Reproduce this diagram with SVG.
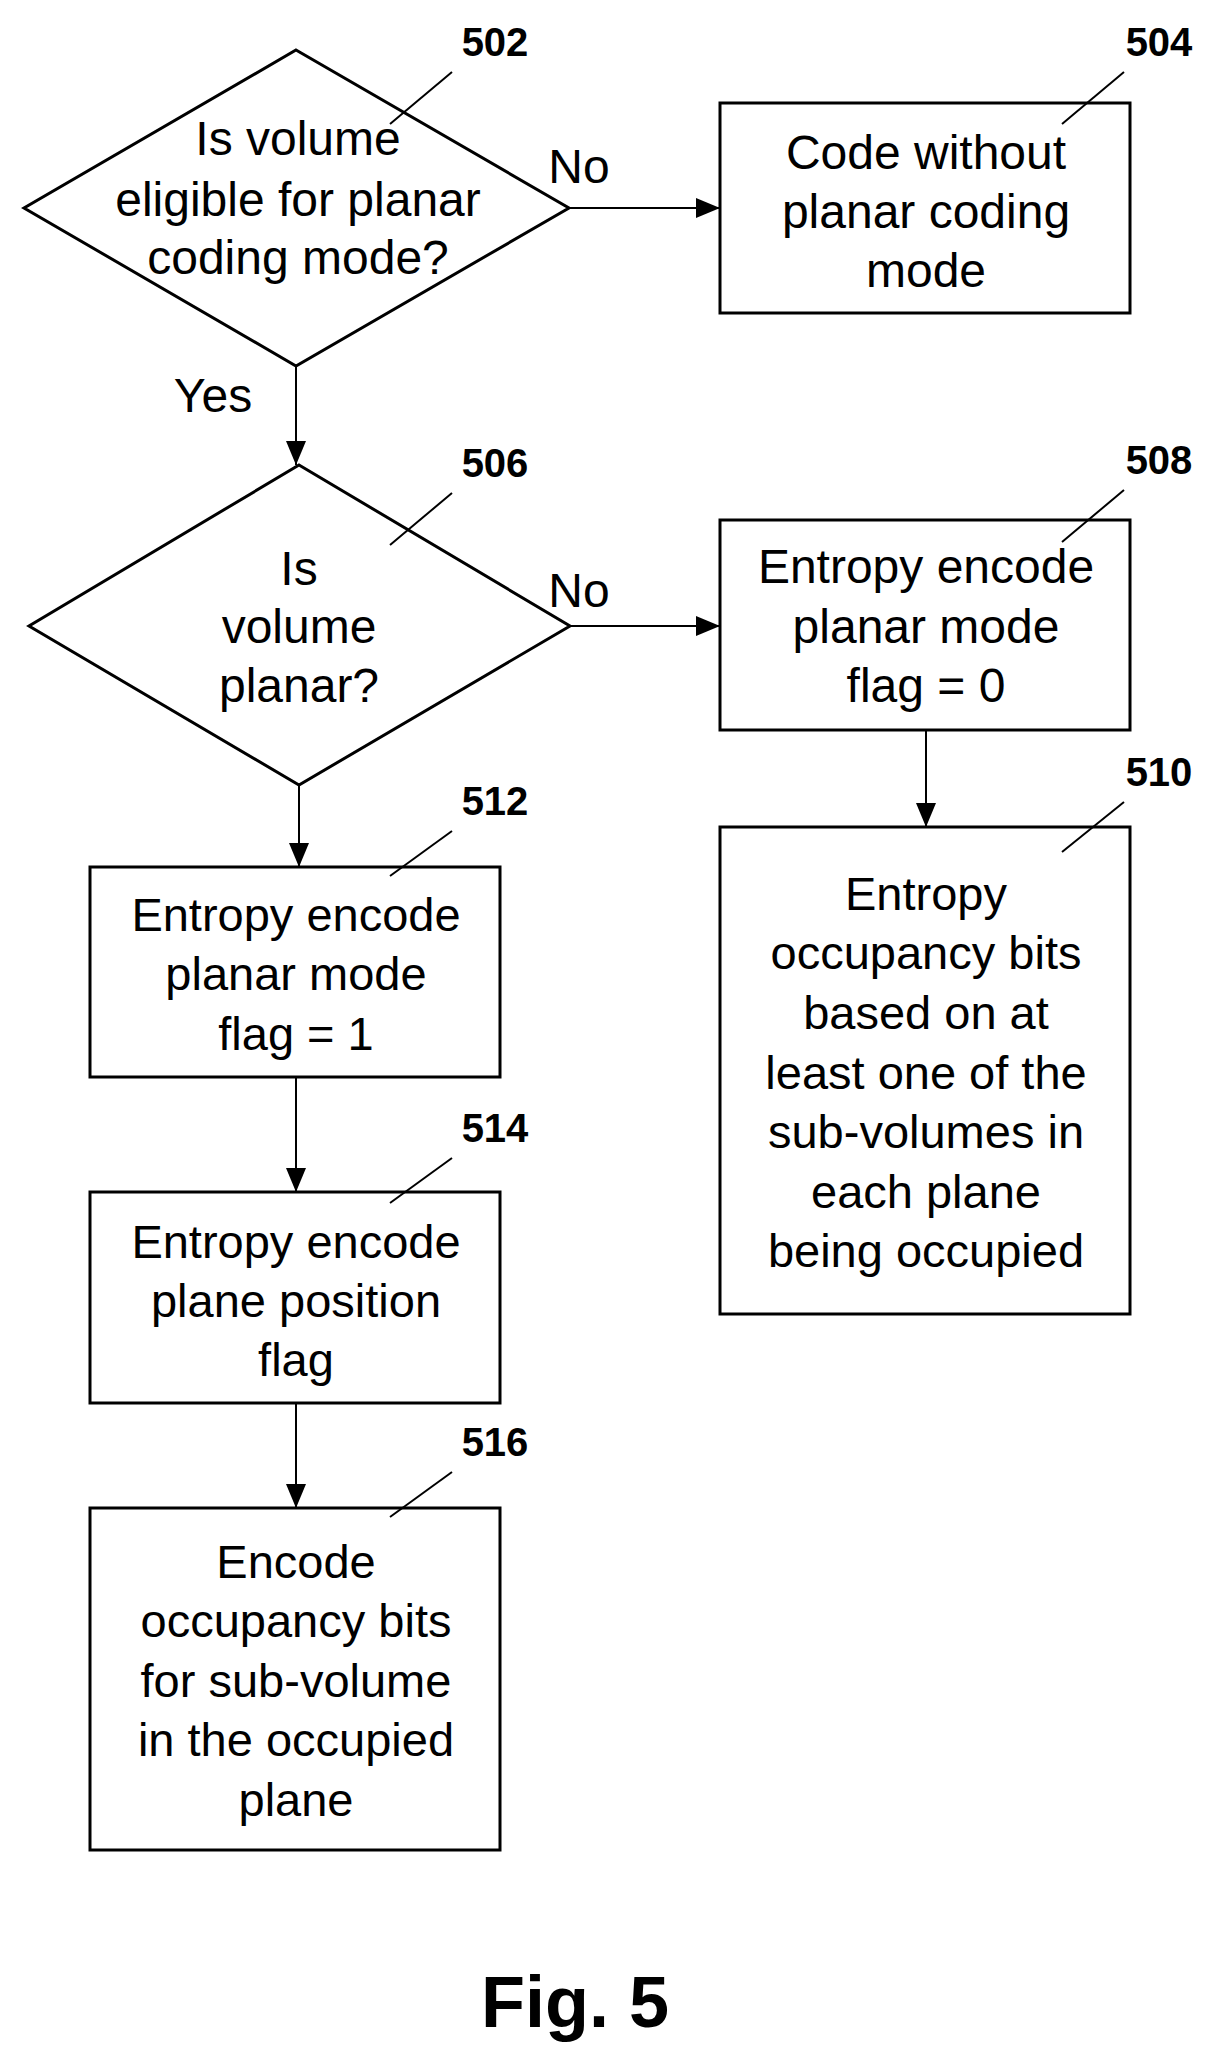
<svg xmlns="http://www.w3.org/2000/svg" width="1225" height="2071" viewBox="0 0 1225 2071">
<style>
.s{fill:none;stroke:#000;stroke-width:3}
.t{font-family:"Liberation Sans",Arial,sans-serif;font-size:47px;text-anchor:middle;fill:#000}
.n{font-family:"Liberation Sans Narrow","Liberation Sans",Arial,sans-serif;font-size:48px;text-anchor:middle;fill:#000}
.r{font-family:"Liberation Sans",Arial,sans-serif;font-size:40px;font-weight:bold;text-anchor:middle;fill:#000}
.l{stroke:#000;stroke-width:2;fill:none}
</style>
<defs><marker id="a" markerWidth="10" markerHeight="10" refX="10" refY="5" orient="auto" markerUnits="userSpaceOnUse" viewBox="0 0 10 10"><path d="M0,0 L10,5 L0,10z" fill="#000" transform="scale(1)"/></marker>
<marker id="b" markerWidth="24" markerHeight="24" refX="24" refY="10" orient="auto" markerUnits="userSpaceOnUse"><path d="M0,0 L24,10 L0,20z" fill="#000"/></marker></defs>
<rect width="1225" height="2071" fill="#fff"/>
<g id="n502"><path class="s" d="M296,50 L569,208 L296,366 L24,208Z"/>
<text class="n" x="298" y="155">Is volume</text><text class="n" x="298" y="216">eligible for planar</text><text class="n" x="298" y="274">coding mode?</text>
<text class="r" x="495" y="56">502</text><path class="l" d="M452,72 L390,124"/></g>
<g id="n504"><rect class="s" x="720" y="103" width="410" height="210"/>
<text class="n" x="926" y="169">Code without</text><text class="n" x="926" y="228">planar coding</text><text class="n" x="926" y="287">mode</text>
<text class="r" x="1159" y="56">504</text><path class="l" d="M1124,72 L1062,124"/></g>
<g id="n506"><path class="s" d="M299,465 L570,626 L299,785 L29,626Z"/>
<text class="n" x="299" y="585">Is</text><text class="n" x="299" y="643">volume</text><text class="n" x="299" y="702">planar?</text>
<text class="r" x="495" y="477">506</text><path class="l" d="M452,493 L390,545"/></g>
<g id="n508"><rect class="s" x="720" y="520" width="410" height="210"/>
<text class="n" x="926" y="583">Entropy encode</text><text class="n" x="926" y="643">planar mode</text><text class="n" x="926" y="702">flag = 0</text>
<text class="r" x="1159" y="474">508</text><path class="l" d="M1124,490 L1062,542"/></g>
<g id="n510"><rect class="s" x="720" y="827" width="410" height="487"/>
<text class="t" x="926" y="910">Entropy</text><text class="t" x="926" y="969">occupancy bits</text><text class="t" x="926" y="1029">based on at</text><text class="t" x="926" y="1089">least one of the</text><text class="t" x="926" y="1148">sub-volumes in</text><text class="t" x="926" y="1208">each plane</text><text class="t" x="926" y="1267">being occupied</text>
<text class="r" x="1159" y="786">510</text><path class="l" d="M1124,802 L1062,852"/></g>
<g id="n512"><rect class="s" x="90" y="867" width="410" height="210"/>
<text class="t" x="296" y="931">Entropy encode</text><text class="t" x="296" y="990">planar mode</text><text class="t" x="296" y="1050">flag = 1</text>
<text class="r" x="495" y="815">512</text><path class="l" d="M452,831 L390,876"/></g>
<g id="n514"><rect class="s" x="90" y="1192" width="410" height="211"/>
<text class="t" x="296" y="1258">Entropy encode</text><text class="t" x="296" y="1317">plane position</text><text class="t" x="296" y="1376">flag</text>
<text class="r" x="495" y="1142">514</text><path class="l" d="M452,1158 L390,1203"/></g>
<g id="n516"><rect class="s" x="90" y="1508" width="410" height="342"/>
<text class="t" x="296" y="1578">Encode</text><text class="t" x="296" y="1637">occupancy bits</text><text class="t" x="296" y="1697">for sub-volume</text><text class="t" x="296" y="1756">in the occupied</text><text class="t" x="296" y="1816">plane</text>
<text class="r" x="495" y="1456">516</text><path class="l" d="M452,1472 L390,1517"/></g>
<g id="connectors">
<path class="l" d="M569,208 L720,208" marker-end="url(#b)"/>
<text class="n" x="579" y="183">No</text>
<path class="l" d="M296,366 L296,465" marker-end="url(#b)"/>
<text class="n" x="213" y="412">Yes</text>
<path class="l" d="M570,626 L720,626" marker-end="url(#b)"/>
<text class="n" x="579" y="607">No</text>
<path class="l" d="M926,730 L926,827" marker-end="url(#b)"/>
<path class="l" d="M299,785 L299,867" marker-end="url(#b)"/>
<path class="l" d="M296,1077 L296,1192" marker-end="url(#b)"/>
<path class="l" d="M296,1403 L296,1508" marker-end="url(#b)"/>
</g>
<text x="575" y="2027" style="font-family:'Liberation Sans',Arial,sans-serif;font-size:72px;font-weight:bold;text-anchor:middle">Fig. 5</text>
</svg>
